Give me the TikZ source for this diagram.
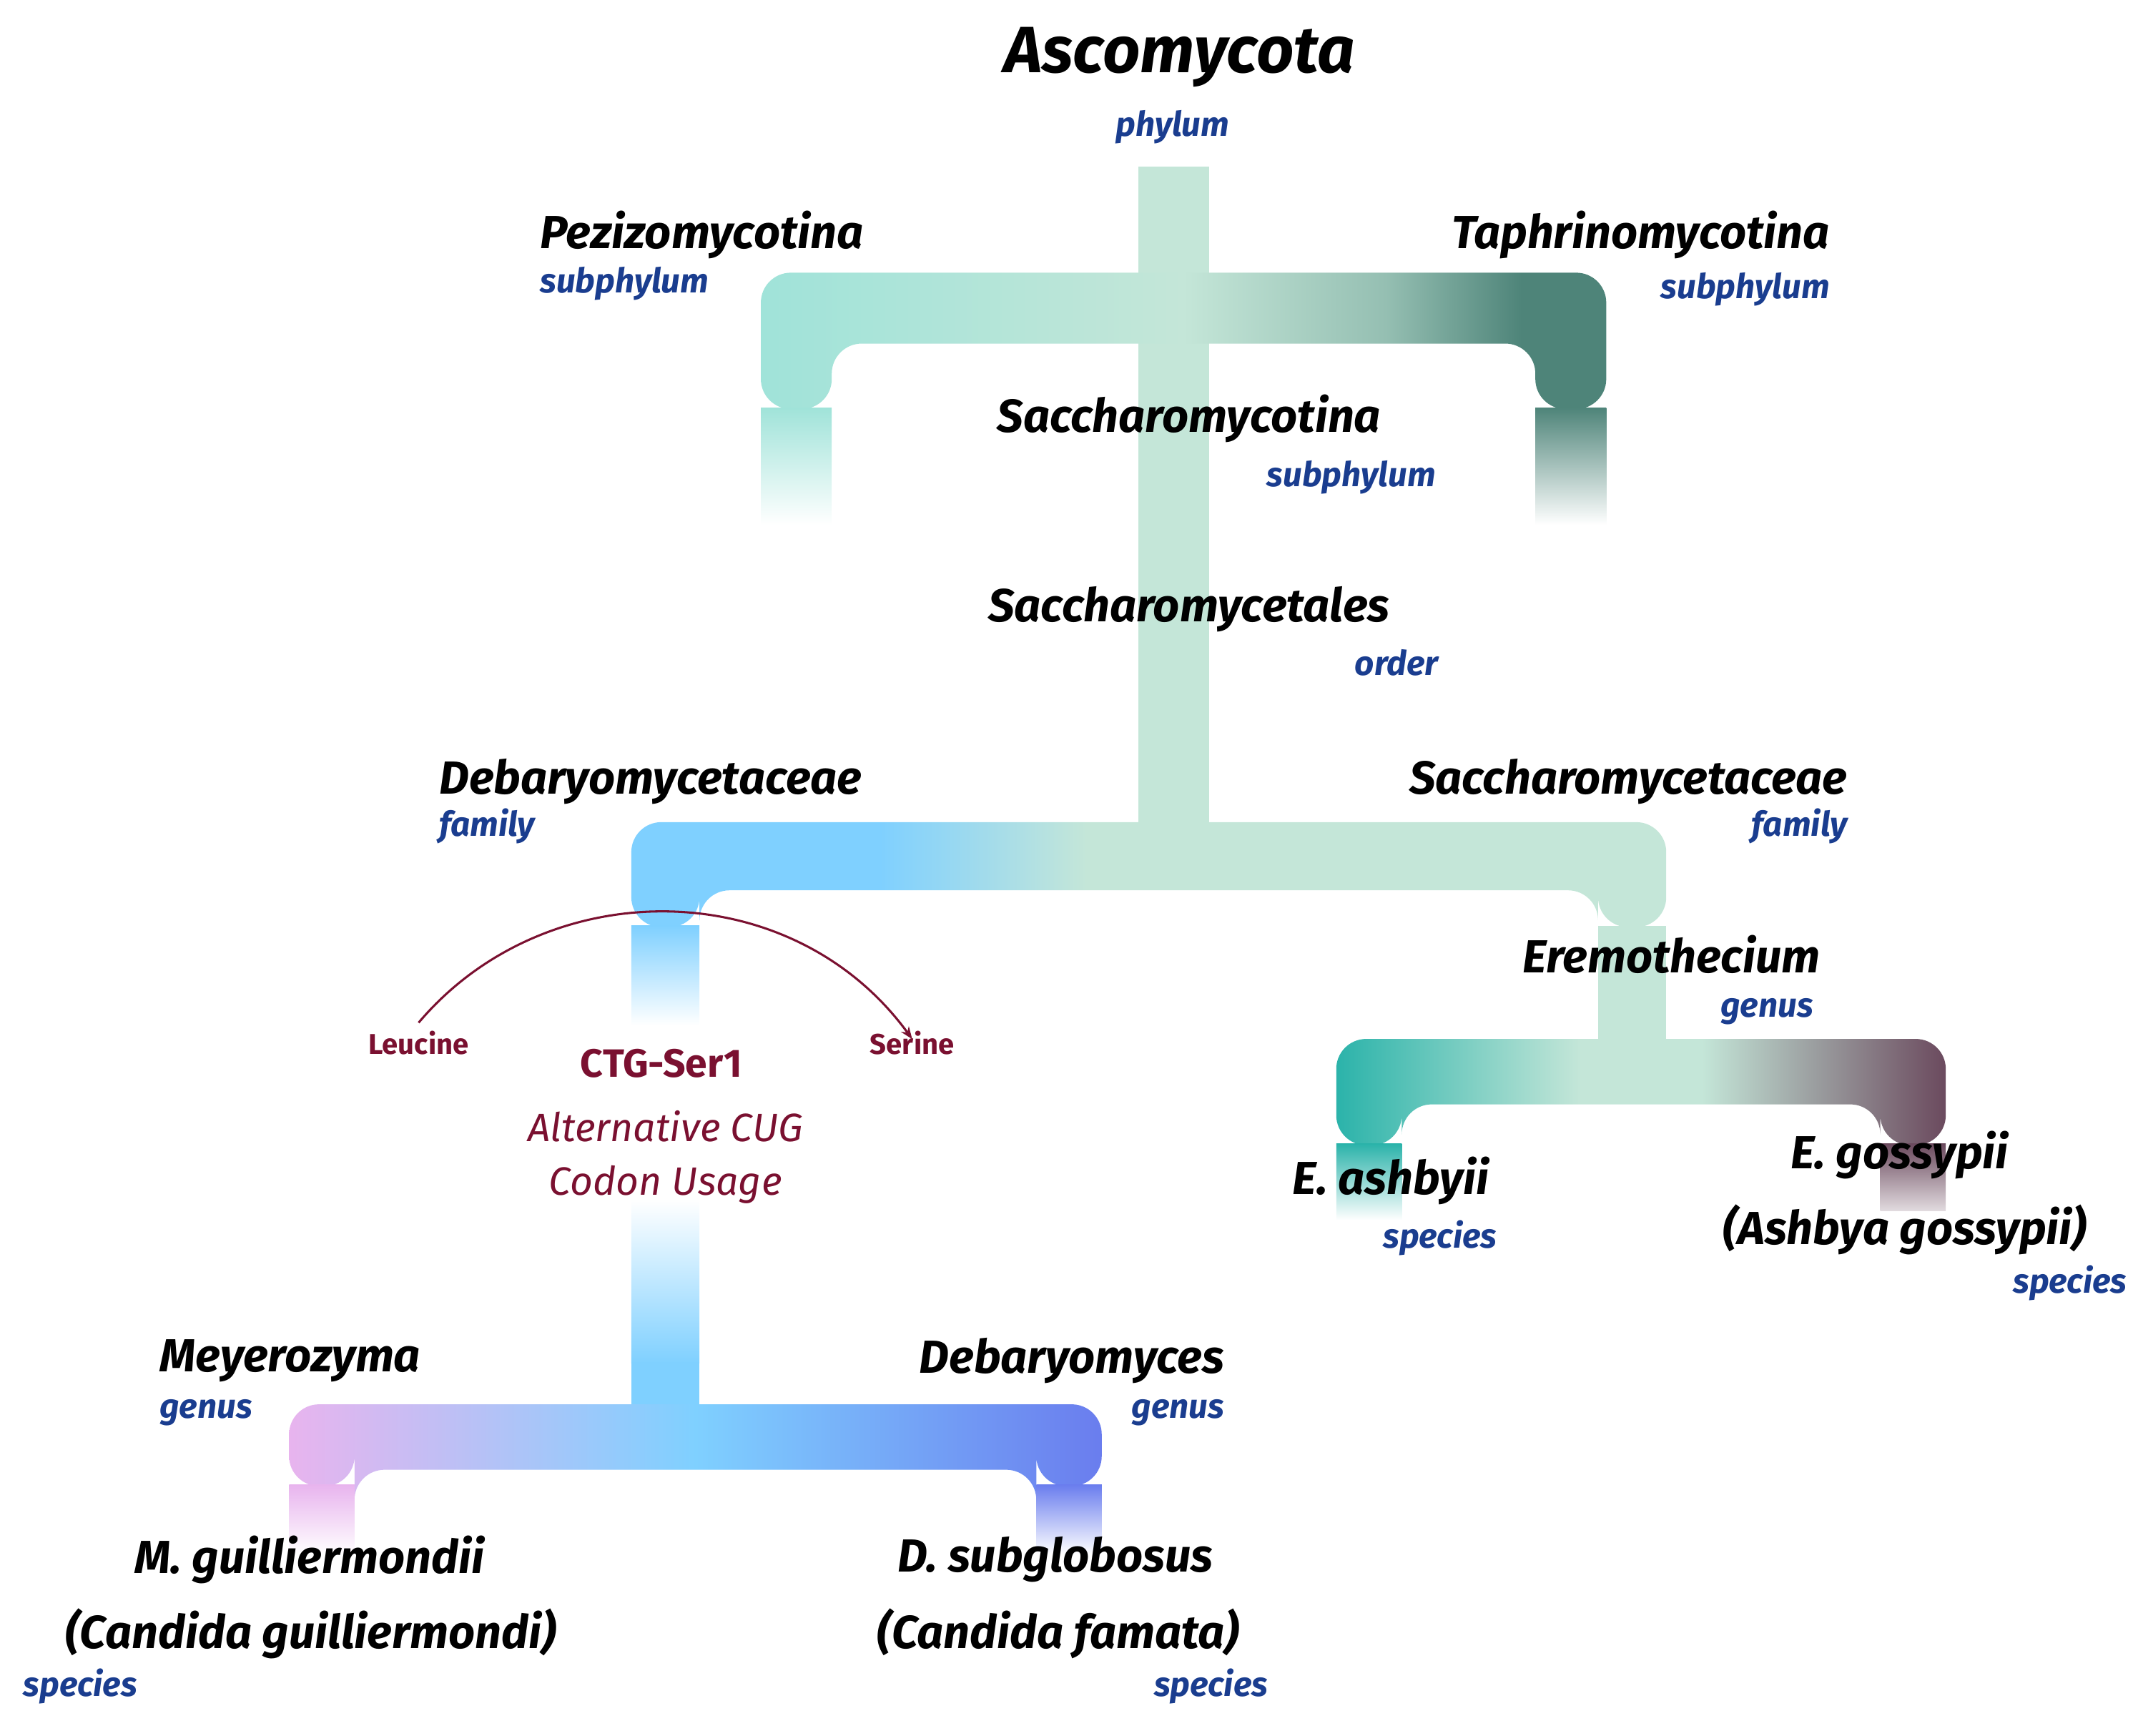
\documentclass[tikz,border=0pt]{standalone}
\usepackage{fontspec}
\setmainfont{Fira Sans}
\usetikzlibrary{arrows.meta}
\definecolor{mint}{HTML}{C4E6D8}
\definecolor{pez}{HTML}{A0E3D9}
\definecolor{taph}{HTML}{4E8479}
\definecolor{fam}{HTML}{7FD0FF}
\definecolor{ash}{HTML}{2BB3AA}
\definecolor{gos}{HTML}{6B4A5E}
\definecolor{mey}{HTML}{E8B4EE}
\definecolor{deb}{HTML}{6A7DEE}
\definecolor{rankblue}{HTML}{1A3D8F}
\definecolor{wine}{HTML}{7A1030}
\pgfdeclarehorizontalshading{topbar}{100bp}{color(0bp)=(pez);color(25bp)=(pez);color(50bp)=(mint);color(62bp)=(taph!40!mint);color(70bp)=(taph);color(100bp)=(taph)}
\pgfdeclarehorizontalshading{fambar}{100bp}{color(0bp)=(fam);color(25bp)=(fam);color(37bp)=(fam);color(47bp)=(mint);color(100bp)=(mint)}
\pgfdeclarehorizontalshading{erebar}{100bp}{color(0bp)=(ash);color(25bp)=(ash);color(45bp)=(mint);color(55bp)=(mint);color(75bp)=(gos);color(100bp)=(gos)}
\pgfdeclarehorizontalshading{debbar}{100bp}{color(0bp)=(mey);color(25bp)=(mey);color(50bp)=(fam);color(75bp)=(deb);color(100bp)=(deb)}
\tikzset{
 big/.style={font=\fontsize{34}{40}\selectfont\bfseries\itshape, inner sep=0pt},
 rank/.style={font=\fontsize{25}{30}\selectfont\bfseries\itshape, text=rankblue, inner sep=0pt},
 amino/.style={font=\fontsize{21}{25}\selectfont\bfseries, text=wine, inner sep=0pt},
}
\newcommand{\ubar}[6]{% xl xr ytop ybot shading t
 \path[shading=#5, rounded corners=22] (#1,#4) -- (#1,#3) -- (#2,#3) -- (#2,#4) -- (#2-#6,#4) -- (#2-#6,#3+#6) -- (#1+#6,#3+#6) -- (#1+#6,#4) -- cycle;}
\begin{document}
\begin{tikzpicture}[x=1pt,y=-1pt]
\useasboundingbox (0,0) rectangle (1568,1273);
% trunk
\fill[mint] (835,122) rectangle (887,605);
% top bar
\ubar{558}{1178}{200}{300}{topbar}{52}
\shade[top color=pez, bottom color=white] (558,299) rectangle (610,385);
\shade[top color=taph, bottom color=white] (1126,299) rectangle (1178,385);
% family bar
\ubar{463}{1222}{603}{680}{fambar}{50}
\fill[mint] (1172,679) rectangle (1222,790);
\shade[top color=fam, bottom color=white] (463,679) rectangle (513,752);
\shade[top color=white, bottom color=fam] (463,880) rectangle (513,1000);
\fill[fam] (463,999) rectangle (513,1040);
% eremothecium bar
\ubar{980}{1427}{762}{840}{erebar}{48}
\shade[top color=ash, bottom color=white] (980,839) rectangle (1028,895);
\shade[top color=gos, bottom color=gos!20] (1379,839) rectangle (1427,888);
% debaryomyces bar
\ubar{212}{808}{1030}{1090}{debbar}{48}
\shade[top color=mey, bottom color=white] (212,1089) rectangle (260,1140);
\shade[top color=deb, bottom color=white] (760,1089) rectangle (808,1140);
% labels
\node[big, font=\fontsize{48}{56}\selectfont\bfseries\itshape] (asco) at (865,42) {Ascomycota};
\node[rank] (phy) at (860,93) {phylum};
\node[big, anchor=west] (pez) at (396,172) {Pezizomycotina};
\node[rank, anchor=west] (pezr) at (396,208) {subphylum};
\node[big, anchor=east] (tap) at (1342,172) {Taphrinomycotina};
\node[rank, anchor=east] (tapr) at (1342,212) {subphylum};
\node[big] (sac) at (872,307) {Saccharomycotina};
\node[rank, anchor=east] (sacr) at (1053,350) {subphylum};
\node[big] (sacl) at (872,447) {Saccharomycetales};
\node[rank, anchor=east] (saclr) at (1055,486) {order};
\node[big, anchor=west] (deba) at (322,573) {Debaryomycetaceae};
\node[rank, anchor=west] (debar) at (322,606) {family};
\node[big, anchor=east] (sacc) at (1355,573) {Saccharomycetaceae};
\node[rank, anchor=east] (saccr) at (1355,606) {family};
\node[big, anchor=east] (ere) at (1335,700) {Eremothecium};
\node[rank, anchor=east] (erer) at (1330,742) {genus};
\node[amino] (leu) at (307,765) {Leucine};
\node[amino] (ser) at (669,765) {Serine};
\draw[wine, line width=1.6, -{Stealth[length=9,width=7]}] (leu.north) ++(0,-6) .. controls (400,640) and (580,640) .. ([yshift=-6]ser.north);
\node[font=\fontsize{29}{34}\selectfont\bfseries, text=wine, inner sep=0pt] (ctg) at (485,780) {CTG-Ser1};
\node[font=\fontsize{29}{34}\selectfont\itshape, text=wine, inner sep=0pt] (alt) at (488,826) {Alternative CUG};
\node[font=\fontsize{29}{34}\selectfont\itshape, text=wine, inner sep=0pt] (cod) at (488,869) {Codon Usage};
\node[big, anchor=east] (ash) at (1092,866) {E. ashbyii};
\node[rank, anchor=east] (ashr) at (1098,908) {species};
\node[big] (gos) at (1393,847) {E. gossypii};
\node[big] (gos2) at (1397,902) {(Ashbya gossypii)};
\node[rank, anchor=east] (gosr) at (1560,941) {species};
\node[big, anchor=west] (mey) at (117,998) {Meyerozyma};
\node[rank, anchor=west] (meyr) at (117,1036) {genus};
\node[big, anchor=east] (debg) at (898,998) {Debaryomyces};
\node[rank, anchor=east] (debgr) at (898,1036) {genus};
\node[big] (mg) at (227,1144) {M. guilliermondii};
\node[big] (mg2) at (228,1198) {(Candida guilliermondi)};
\node[rank, anchor=west] (mgr) at (17,1237) {species};
\node[big] (ds) at (774,1144) {D. subglobosus};
\node[big] (ds2) at (776,1198) {(Candida famata)};
\node[rank, anchor=east] (dsr) at (930,1237) {species};
\end{tikzpicture}
\end{document}
